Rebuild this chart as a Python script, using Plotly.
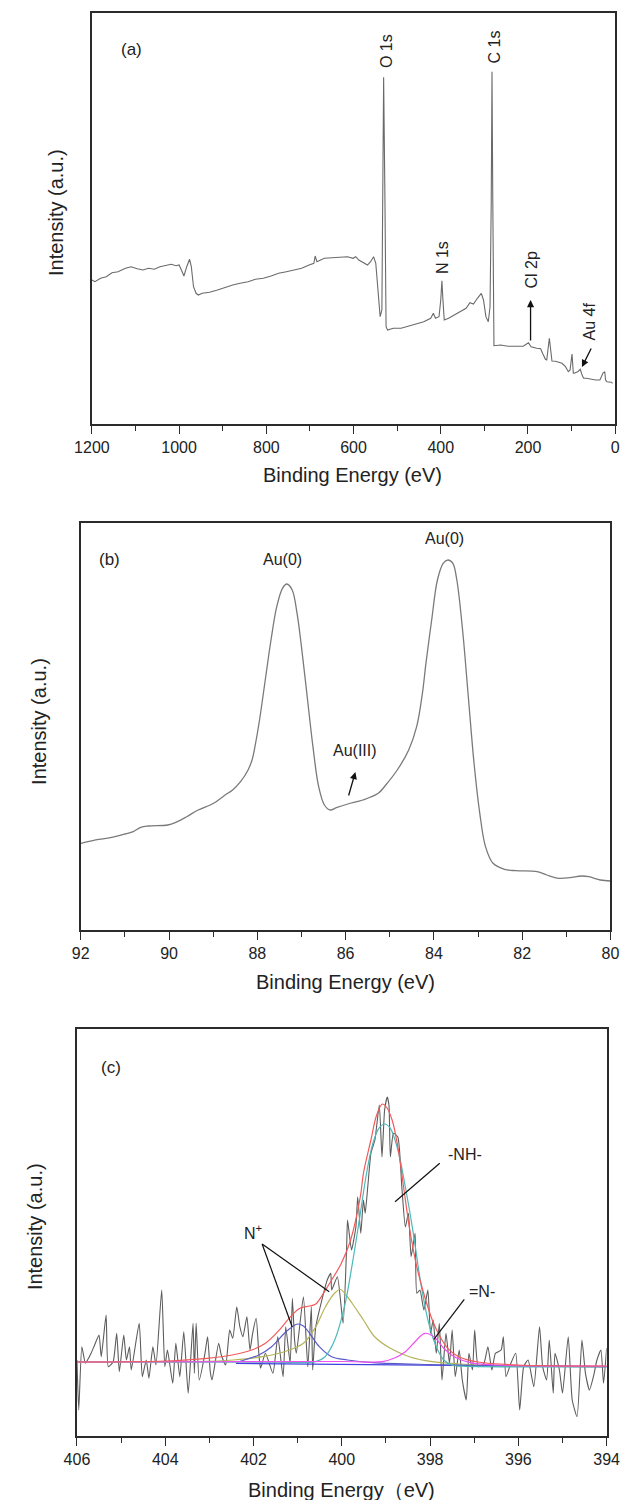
import plotly.graph_objects as go

W, H = 632, 1500

# ---------------- Panel (a): survey spectrum ----------------
a_energy = [1200, 1193, 1180, 1167, 1154, 1140, 1123, 1110, 1096, 1083, 1070, 1057, 1044, 1031,
            1018, 1007, 1000, 993, 989, 982.5, 976, 972, 967, 961, 956, 947, 930, 912, 895, 877,
            860, 842, 825, 807, 789, 772, 754, 737, 719, 702, 691, 688, 684, 667, 649, 632, 614,
            601, 595, 588, 575, 568, 561, 554, 549, 544, 539, 535, 532.5, 531, 528, 525.4, 522,
            509, 491, 474, 456, 439, 423, 417, 412, 404, 400, 397.4, 395, 392, 382, 368, 355, 342,
            333, 325, 316, 307, 302, 296.5, 291, 287, 284.2, 282.5, 280.7, 278, 263, 246, 228, 211,
            199, 193, 180, 171, 166, 160, 157, 154, 151, 147, 145, 137, 122, 114, 107.5, 103.5, 99,
            96, 94, 86, 80, 77, 72.6, 66, 56.7, 45, 35, 28, 24, 22, 19, 9, 6, 0]
a_counts = [143.7, 142, 145.4, 147, 151, 152, 155.4, 157, 155, 153.7, 155.4, 154.4, 157, 158,
            159.4, 158, 158.7, 152, 147.7, 157, 164.4, 157, 137, 130.4, 128.7, 130.4, 131.4, 133.7,
            136.4, 138.7, 140.4, 142, 144.4, 145.4, 147.7, 150.4, 152, 153.7, 155.4, 158.7, 160.4,
            167.7, 162, 165.4, 166, 166.4, 167, 165.4, 167, 163.7, 160.4, 158.7, 162, 167, 160.4,
            130.4, 107, 113.7, 223.7, 346.4, 223.7, 97, 93.7, 95.4, 95.4, 97.7, 100.4, 102, 105.4,
            110.4, 105.4, 107, 123.7, 143, 123.7, 103.7, 105.4, 108.7, 112, 115.4, 121, 119.7,
            125.4, 130.4, 123.7, 107, 102, 117, 223.7, 352, 223.7, 78, 78.7, 77.5, 77.5, 77.5,
            81, 77, 75.4, 75, 70, 64.4, 63.7, 73.7, 85.4, 70.4, 62.7, 62.4, 60.4, 57, 52, 53.7,
            69.7, 50.4, 50.4, 52, 54.4, 50, 45.4, 45.4, 44.5, 43.7, 43.7, 50.7, 52, 43.7, 42, 41.5, 40.4]

# ---------------- Panel (b): Au 4f ----------------
b_energy = [92.0, 91.59, 91.33, 90.99, 90.81, 90.64, 90.46, 90.03, 89.86, 89.6, 89.34, 88.99, 88.73,
            88.56, 88.38, 88.21, 88.12, 88.04, 87.95, 87.82, 87.69, 87.56, 87.43, 87.33, 87.21, 87.1,
            87.0, 86.87, 86.74, 86.61, 86.48, 86.35, 86.21, 85.95, 85.61, 85.26, 85.09, 84.83, 84.57,
            84.39, 84.26, 84.18, 84.05, 83.92, 83.79, 83.68, 83.57, 83.48, 83.35, 83.22, 83.09, 82.96,
            82.83, 82.66, 82.4, 82.14, 81.66, 81.44, 81.18, 80.92, 80.66, 80.49, 80.23, 80.0]
b_counts = [86.7, 90.7, 92.3, 96, 98.3, 102.7, 104, 105, 107.3, 113.3, 120, 126.7, 135, 140, 148.3,
            160, 170, 186.7, 210, 250, 290, 323.3, 341.7, 346, 340, 316.7, 283.3, 233.3, 183.3,
            143.3, 125, 120, 122.3, 126, 130, 136.7, 145, 160, 180, 203.3, 236.7, 266.7, 310, 350,
            366.7, 370, 366.7, 350, 300, 233.3, 166.7, 116.7, 83.3, 66.7, 60.7, 59.3, 58.3, 55,
            51.7, 52.3, 54, 53.3, 50, 49]

# ---------------- Panel (c): N 1s ----------------
c_energy = [406.00, 405.96, 405.89, 405.81, 405.76, 405.68, 405.60, 405.50, 405.45, 405.34, 405.29,
            405.18, 405.10, 405.04, 404.94, 404.88, 404.81, 404.77, 404.59, 404.52, 404.43, 404.37,
            404.28, 404.21, 404.08, 404.01, 403.95, 403.83, 403.76, 403.67, 403.58, 403.48, 403.37,
            403.34, 403.30, 403.23, 403.10, 403.04, 402.98, 402.94, 402.79, 402.73, 402.63, 402.54,
            402.47, 402.38, 402.31, 402.24, 402.15, 402.08, 402.02, 401.94, 401.88, 401.84, 401.73,
            401.56, 401.45, 401.33, 401.27, 401.17, 401.12, 401.07, 401.03, 400.87, 400.77, 400.69,
            400.66, 400.59, 400.33, 400.25, 400.23, 400.10, 399.97, 399.89, 399.87, 399.78, 399.68,
            399.64, 399.57, 399.51, 399.47, 399.41, 399.34, 399.25, 399.15, 399.09, 399.03, 398.97,
            398.93, 398.90, 398.83, 398.73, 398.64, 398.56, 398.49, 398.43, 398.34, 398.30, 398.23,
            398.14, 398.05, 397.99, 397.93, 397.86, 397.79, 397.73, 397.64, 397.56, 397.50, 397.43,
            397.34, 397.27, 397.18, 397.12, 397.04, 396.99, 396.91, 396.78, 396.69, 396.60, 396.52,
            396.39, 396.34, 396.28, 396.17, 396.06, 395.97, 395.88, 395.78, 395.65, 395.52, 395.45,
            395.36, 395.30, 395.21, 395.17, 395.07, 395.00, 394.87, 394.78, 394.67, 394.56, 394.48,
            394.39, 394.30, 394.22, 394.13, 394.07, 394.00]
c_counts = [76, 26, 89.3, 72.7, 76, 82.7, 91, 101, 79.3, 121, 69.3, 74.3, 102.7, 64.3, 101, 76, 89.3,
            66, 112.7, 59.3, 76, 57.7, 89.3, 71, 146, 69.3, 86, 52.7, 92.7, 59.3, 104.3, 42.7, 112.7,
            62.7, 112.7, 56, 82.7, 99.3, 64.3, 56, 92.7, 81, 71, 106, 97.7, 129.3, 109.3, 99.3, 119.3,
            86, 102.7, 117.7, 82.7, 67.7, 82.7, 62.7, 99.3, 59.3, 109.3, 72.7, 137.7, 96, 82.7, 139.3,
            69.3, 129.3, 66, 109.3, 156, 162.7, 146, 159.3, 112.7, 189.3, 216, 186, 209.3, 239.3,
            202.7, 236, 222.7, 250, 282.7, 296, 331, 279, 326, 339, 330, 279, 302.7, 299, 249, 209,
            222.7, 179.3, 202.7, 142.7, 146, 126, 146, 102.7, 116, 82.7, 112.7, 56, 102.7, 72.7, 106,
            59.3, 86, 56, 36, 82.7, 66, 106, 69.3, 72.7, 89.3, 66, 82.7, 86, 99.3, 59.3, 72.7, 82.7,
            26, 69.3, 76, 49.3, 109.3, 69.3, 56, 96, 42.7, 82.7, 66, 42.7, 99.3, 36, 19.3, 96, 62.7,
            46, 59.3, 76, 86, 52.7, 87.7]

env_energy = [406, 404, 403.05, 402.48, 402.04, 401.73, 401.45, 401.16, 400.95, 400.73, 400.59,
              400.44, 400.23, 400.01, 399.8, 399.58, 399.51, 399.34, 399.21, 399.08, 398.99, 398.86,
              398.73, 398.6, 398.47, 398.3, 398.12, 397.95, 397.77, 397.6, 397.34, 396.91, 396.04, 394]
env_counts = [74, 75, 77.7, 81, 86, 92.7, 104.3, 119.3, 127.7, 130, 132, 141, 156, 172.7, 196,
              239.3, 262.7, 296, 321, 332, 329, 316, 289, 249, 209, 169, 139, 116, 99, 87.7, 79,
              74, 71, 70]

nh_energy = [406, 401.5, 400.59, 400.38, 400.16, 399.94, 399.76, 399.58, 399.45, 399.3, 399.16,
             399.03, 398.9, 398.73, 398.56, 398.38, 398.21, 398.03, 397.86, 397.69, 397.51, 397.25, 394]
nh_counts = [74, 73.8, 74.3, 79.3, 96, 129.3, 172.7, 222.7, 260, 292, 307.7, 312, 307.7, 286, 249,
             202.7, 152.7, 112.7, 89.3, 76, 71, 69.8, 69.3]

np400_energy = [406, 404, 403.33, 402.46, 401.8, 401.3, 400.87, 400.59, 400.37, 400.16, 400.03,
                399.87, 399.77, 399.51, 399.25, 398.9, 398.47, 397.95, 397.34, 396.47, 394]
np400_counts = [74, 74, 74.3, 76, 79.3, 84.3, 92.7, 109.3, 129.3, 143, 146.5, 139, 133, 116, 99,
                87.7, 79.3, 74.3, 72, 70.3, 69.3]

np401_energy = [402.38, 401.88, 401.59, 401.3, 401.12, 401.0, 400.87, 400.73, 400.51, 400.23,
                399.87, 399.3, 398, 394]
np401_counts = [73.7, 81, 89.3, 102.7, 109.3, 112, 110, 102.7, 89.3, 79.3, 76, 73.3, 71.5, 69.3]

n398_energy = [406, 400, 399.08, 398.82, 398.56, 398.34, 398.12, 397.9, 397.69, 397.43, 397.08,
               396.47, 394]
n398_counts = [74, 74.5, 74.3, 77.7, 84.3, 94.3, 102.7, 98.7, 87.7, 78.7, 73.3, 71, 69.8]

base_energy = [402.4, 394]
base_counts = [72.5, 69.3]

# tick values
a_ticks = [1200, 1000, 800, 600, 400, 200, 0]
b_ticks = [92, 90, 88, 86, 84, 82, 80]
c_ticks = [406, 404, 402, 400, 398, 396, 394]

FONT = "Liberation Sans, Arial, sans-serif"
AX = "#2b2b2b"


def px(x):
    return x / W


def py(y):
    return 1 - y / H


fig = go.Figure()

fig.add_trace(go.Scatter(x=a_energy, y=a_counts, mode="lines", line=dict(color="#6a6a6a", width=1.1),
                         xaxis="x", yaxis="y", showlegend=False))
fig.add_trace(go.Scatter(x=b_energy, y=b_counts, mode="lines", line=dict(color="#7a7a7a", width=1.3, shape="spline"),
                         xaxis="x2", yaxis="y2", showlegend=False))
fig.add_trace(go.Scatter(x=c_energy, y=c_counts, mode="lines",
                         line=dict(color="#5c5c5c", width=1.1, shape="spline", smoothing=0.5),
                         xaxis="x3", yaxis="y3", showlegend=False))
for ex, ey, col in [(base_energy, base_counts, "#4040e0"),
                    (np400_energy, np400_counts, "#b4b45a"),
                    (np401_energy, np401_counts, "#5a5ac8"),
                    (nh_energy, nh_counts, "#4cb8b8"),
                    (n398_energy, n398_counts, "#f050f0"),
                    (env_energy, env_counts, "#f25a5a")]:
    fig.add_trace(go.Scatter(x=ex, y=ey, mode="lines", line=dict(color=col, width=1.2, shape="spline"),
                             xaxis="x3", yaxis="y3", showlegend=False))

panels = [
    ("xaxis", "yaxis", 77.7, 628, 13.3, 423.7, [1200, 0], a_ticks, 100, 410.4),
    ("xaxis2", "yaxis2", 66, 623, 522.7, 930, [92, 80], b_ticks, 1, 407.3),
    ("xaxis3", "yaxis3", 62, 619, 1029.3, 1436, [406, 394], c_ticks, 1, 406.7),
]

layout = dict(width=W, height=H, margin=dict(l=0, r=0, t=0, b=0),
              paper_bgcolor="white", plot_bgcolor="white",
              font=dict(family=FONT, color="#222"))
for i, (xn, yn, l, r, t, b, xr, tv, mdt, ymax) in enumerate(panels):
    suffix = "" if i == 0 else str(i + 1)
    layout[xn] = dict(domain=[px(l), px(r)], range=xr, anchor="y" + suffix,
                      showline=True, linecolor=AX, linewidth=1.6, mirror=True,
                      ticks="outside", ticklen=8, tickwidth=1.4, tickcolor=AX,
                      tickvals=tv, ticktext=[str(v) for v in tv],
                      tickfont=dict(family=FONT, size=16, color="#222"),
                      minor=dict(ticks="outside", ticklen=5, tickwidth=1.4, tickcolor=AX, dtick=mdt),
                      showgrid=False, zeroline=False)
    layout[yn] = dict(domain=[py(b), py(t)], range=[0, ymax], anchor="x" + suffix,
                      showline=True, linecolor=AX, linewidth=1.6, mirror=True,
                      ticks="", showticklabels=False, showgrid=False, zeroline=False)
fig.update_layout(**layout)

ann = []


def text(x, y, s, size=16, angle=0):
    ann.append(dict(x=px(x), y=py(y), xref="paper", yref="paper", text=s, showarrow=False,
                    textangle=angle, font=dict(family=FONT, size=size, color="#222"),
                    xanchor="center", yanchor="middle"))


def arrow(hx, hy, tx, ty):
    ann.append(dict(x=px(hx), y=py(hy), xref="paper", yref="paper", text="", showarrow=True,
                    ax=tx - hx, ay=ty - hy, arrowhead=2, arrowsize=1.1, arrowwidth=1.3,
                    arrowcolor="#111"))


# axis titles
text(352, 475, "Binding Energy (eV)", 20)
text(344, 982, "Binding Energy (eV)", 20)
text(340, 1490, "Binding Energy（eV)", 20)
text(40, 213, "Intensity (a.u.)", 20, -90)
text(22, 721, "Intensity (a.u.)", 20, -90)
text(18, 1227, "Intensity (a.u.)", 20, -90)

# panel a labels
text(119, 50, "(a)", 17)
text(387, 51, "O 1s", 16, -90)
text(502, 47, "C 1s", 16, -90)
text(447, 258, "N 1s", 16, -90)
text(540, 270, "Cl 2p", 16, -90)
text(602, 321, "Au 4f", 16, -90)
arrow(539, 300, 539, 342)
arrow(593, 367, 603, 347)

# panel b labels
text(96, 560, "(b)", 17)
text(278, 559, "Au(0)", 16)
text(448, 539, "Au(0)", 16)
text(354, 750, "Au(III)", 16)
arrow(354.8, 772, 347.6, 797)

# panel c labels
text(98, 1067, "(c)", 17)
text(470, 1154, "-NH-", 16)
text(488, 1291, "=N-", 16)
text(247, 1232, "N<sup>+</sup>", 16)
fig.update_layout(annotations=ann)

shapes = []
for (x0, y0, x1, y1) in [(443.5, 1163.3, 396.5, 1201.7),
                         (469.3, 1299.3, 437.3, 1339.3),
                         (256.7, 1244, 288.3, 1326.7),
                         (256.7, 1244, 327.3, 1291.7)]:
    shapes.append(dict(type="line", xref="paper", yref="paper", x0=px(x0), y0=py(y0),
                       x1=px(x1), y1=py(y1), line=dict(color="#111", width=1.2)))
fig.update_layout(shapes=shapes)

fig.write_html("out.html")
